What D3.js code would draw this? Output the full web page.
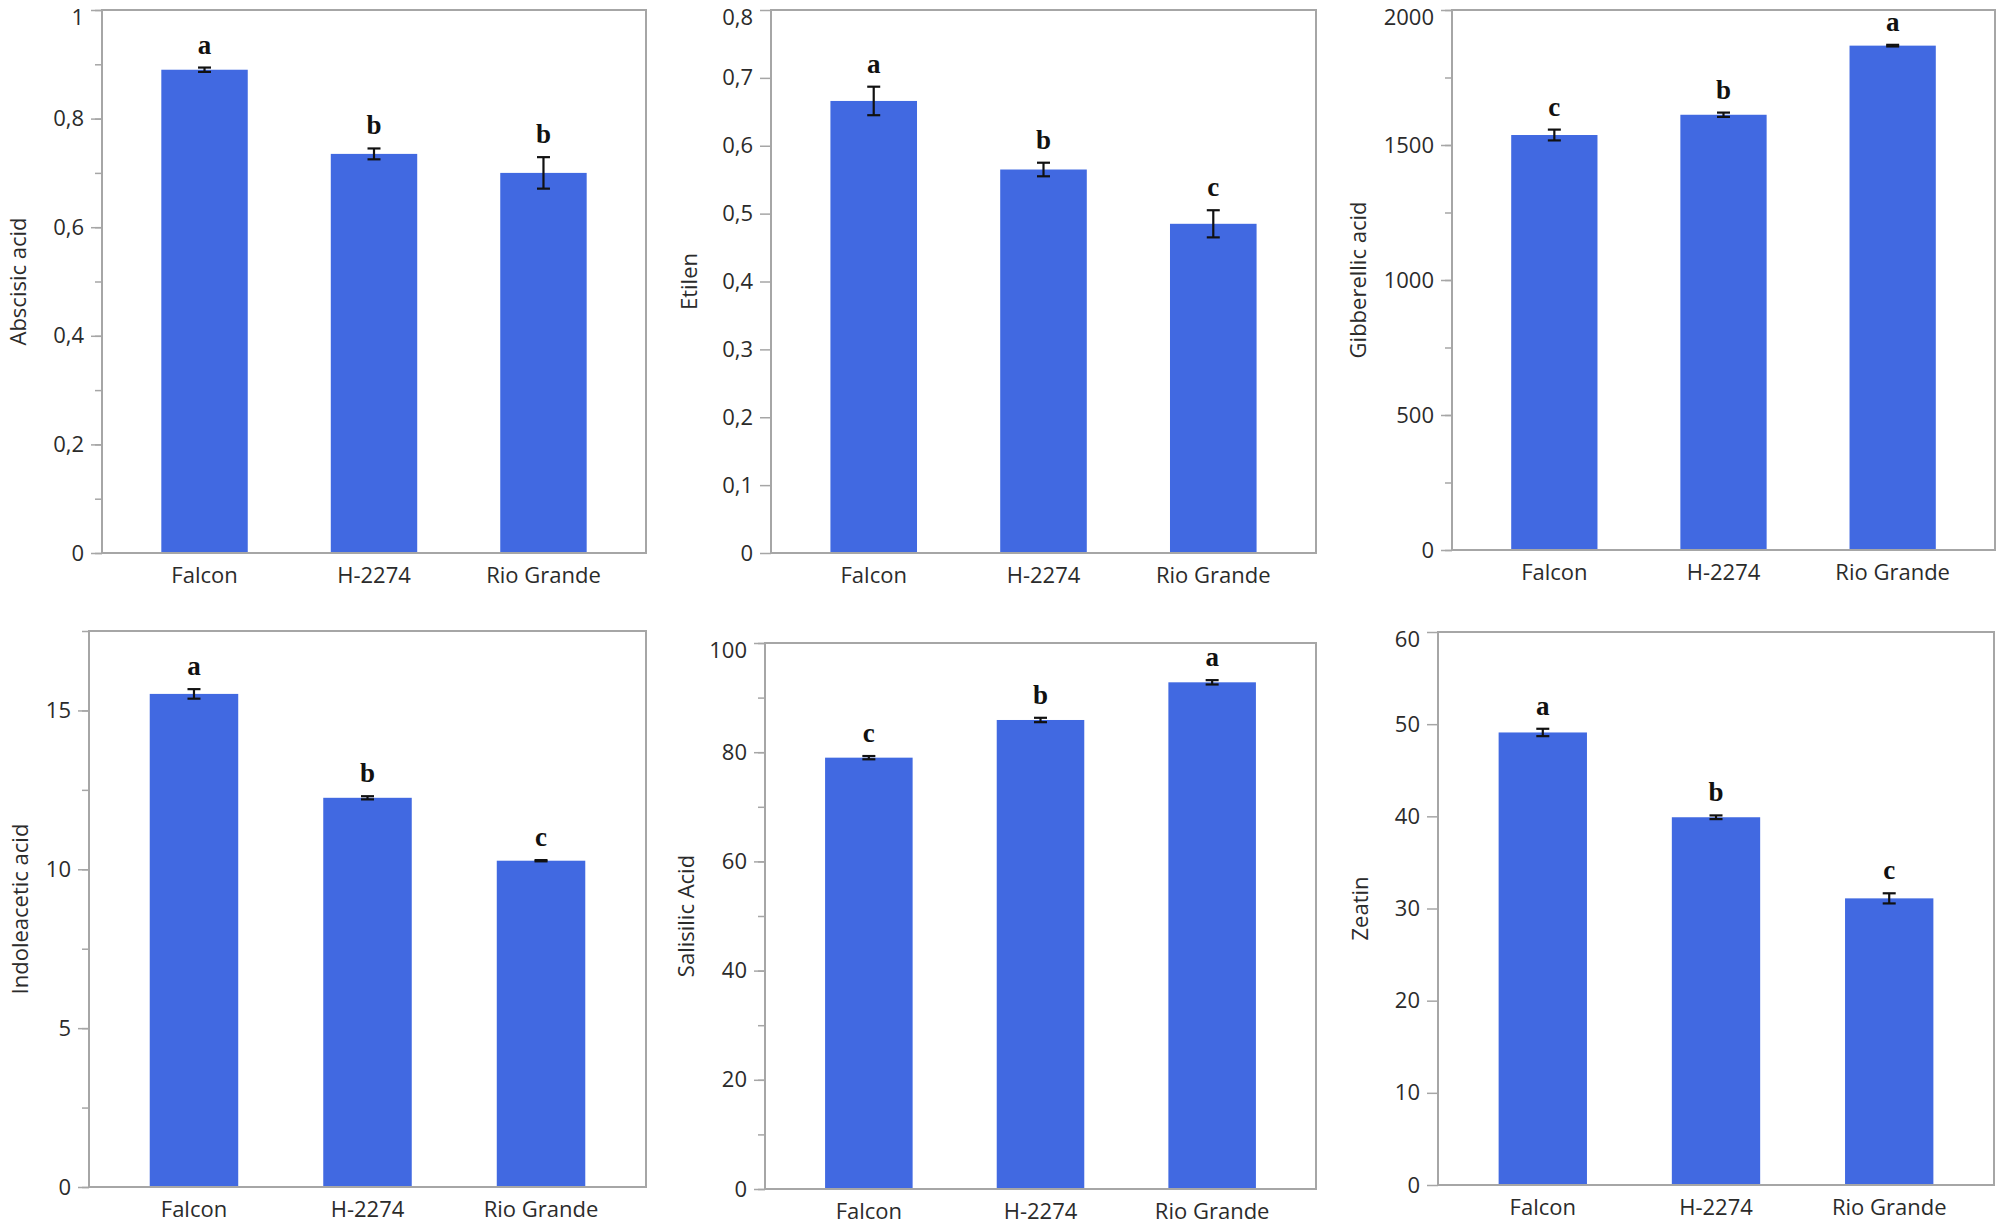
<!DOCTYPE html>
<html>
<head>
<meta charset="utf-8">
<script src="https://cdn.jsdelivr.net/npm/d3@7"></script>
<style>
  body { margin: 0; background: #fff; }
  svg { display: block; }
</style>
</head>
<body>
<div id="canvas"></div>
<script>
// cultivars on the x axis of every panel
const cultivars = ["Falcon", "H-2274", "Rio Grande"];
const hormones = ["Abscisic acid", "Etilen", "Gibberellic acid", "Indoleacetic acid", "Salisilic Acid", "Zeatin"];

// means, error (half length) and significance letters per hormone
const abscisicMean = [0.89, 0.735, 0.70];
const abscisicErr = [0.004, 0.01, 0.029];
const abscisicLetters = ["a", "b", "b"];

const etilenMean = [0.666, 0.565, 0.485];
const etilenErr = [0.021, 0.01, 0.02];
const etilenLetters = ["a", "b", "c"];

const gibberellicMean = [1537, 1612, 1868];
const gibberellicErr = [20, 8, 3];
const gibberellicLetters = ["c", "b", "a"];

const indoleMean = [15.52, 12.25, 10.27];
const indoleErr = [0.15, 0.05, 0.02];
const indoleLetters = ["a", "b", "c"];

const salisilicMean = [79.0, 85.9, 92.8];
const salisilicErr = [0.3, 0.4, 0.4];
const salisilicLetters = ["c", "b", "a"];

const zeatinMean = [49.1, 39.9, 31.1];
const zeatinErr = [0.4, 0.2, 0.55];
const zeatinLetters = ["a", "b", "c"];

// y axis: top of the scale, labelled tick step, minor tick step
const yMax = [1, 0.8, 2000, 17.5, 100, 60];
const yStep = [0.2, 0.1, 500, 5, 20, 10];
const yMinor = [0.1, null, 250, 2.5, 10, null];

const means = [abscisicMean, etilenMean, gibberellicMean, indoleMean, salisilicMean, zeatinMean];
const errs = [abscisicErr, etilenErr, gibberellicErr, indoleErr, salisilicErr, zeatinErr];
const letters = [abscisicLetters, etilenLetters, gibberellicLetters, indoleLetters, salisilicLetters, zeatinLetters];

// plot frames (pixels) and where each y title sits
const frames = [
  { x0: 102, x1: 646, y0: 10, y1: 553, tx: 17 },
  { x0: 771, x1: 1316, y0: 10, y1: 553, tx: 688 },
  { x0: 1452, x1: 1995, y0: 10, y1: 550, tx: 1357 },
  { x0: 89, x1: 646, y0: 631, y1: 1187, tx: 19 },
  { x0: 765, x1: 1316, y0: 643, y1: 1189, tx: 685 },
  { x0: 1438, x1: 1994, y0: 632, y1: 1185, tx: 1359 }
];

const width = 2000;
const height = 1226;
const barColor = "#4169e1";
const gridGray = "#a6a6a6";
const textColor = "#2b2b2b";
const comma = d3.formatLocale({ decimal: ",", thousands: "", grouping: [3], currency: ["", ""] }).format("~g");

const svg = d3.select("#canvas").append("svg")
  .attr("width", width)
  .attr("height", height)
  .style("font-family", "'Open Sans', 'Noto Sans', sans-serif");

hormones.forEach((name, i) => {
  const f = frames[i];
  const g = svg.append("g");

  const x = d3.scaleBand()
    .domain(cultivars)
    .range([f.x0, f.x1])
    .paddingInner(0.49)
    .paddingOuter(0.35);

  const y = d3.scaleLinear()
    .domain([0, yMax[i]])
    .range([f.y1, f.y0]);

  const rows = cultivars.map((c, k) => ({ c: c, v: means[i][k], e: errs[i][k], l: letters[i][k] }));

  // minor ticks
  if (yMinor[i]) {
    const minor = d3.range(0, yMax[i] + 1e-9, yMinor[i]);
    g.append("g")
      .attr("transform", `translate(${f.x0},0)`)
      .call(d3.axisLeft(y).tickValues(minor).tickSize(7).tickFormat(""))
      .call(a => a.select(".domain").remove())
      .call(a => a.selectAll("line").attr("stroke", gridGray).attr("stroke-width", 1.5));
  }

  // labelled ticks; the top label is nudged down so it stays on the page
  const major = d3.range(0, yMax[i] + 1e-9, yStep[i]);
  g.append("g")
    .attr("transform", `translate(${f.x0},0)`)
    .call(d3.axisLeft(y).tickValues(major).tickSize(11).tickPadding(7).tickFormat(comma))
    .call(a => a.select(".domain").remove())
    .call(a => a.selectAll("line").attr("stroke", gridGray).attr("stroke-width", 1.5))
    .call(a => a.selectAll("text")
      .attr("fill", textColor)
      .style("font-size", "22px")
      .style("font-family", "'Open Sans', sans-serif")
      .attr("y", d => Math.abs(d - yMax[i]) < 1e-9 ? 7 : 0));

  g.selectAll("rect.bar")
    .data(rows)
    .enter().append("rect")
    .attr("class", "bar")
    .attr("x", d => x(d.c))
    .attr("y", d => y(d.v))
    .attr("width", x.bandwidth())
    .attr("height", d => y(0) - y(d.v))
    .attr("fill", barColor);

  // frame round the plot area
  g.append("rect")
    .attr("x", f.x0)
    .attr("y", f.y0)
    .attr("width", f.x1 - f.x0)
    .attr("height", f.y1 - f.y0)
    .attr("fill", "none")
    .attr("stroke", gridGray)
    .attr("stroke-width", 2);

  // error bars
  const cx = d => x(d.c) + x.bandwidth() / 2;
  const eb = g.selectAll("g.err").data(rows).enter().append("g").attr("class", "err")
    .attr("stroke", "#111").attr("stroke-width", 2.2);
  eb.append("line").attr("x1", cx).attr("x2", cx).attr("y1", d => y(d.v + d.e)).attr("y2", d => y(d.v - d.e));
  eb.append("line").attr("x1", d => cx(d) - 6.5).attr("x2", d => cx(d) + 6.5).attr("y1", d => y(d.v + d.e)).attr("y2", d => y(d.v + d.e));
  eb.append("line").attr("x1", d => cx(d) - 6.5).attr("x2", d => cx(d) + 6.5).attr("y1", d => y(d.v - d.e)).attr("y2", d => y(d.v - d.e));

  // significance letters
  g.selectAll("text.sig")
    .data(rows)
    .enter().append("text")
    .attr("class", "sig")
    .attr("x", cx)
    .attr("y", d => y(d.v + d.e) - 14)
    .attr("text-anchor", "middle")
    .style("font-family", "'Liberation Serif', 'Times New Roman', serif")
    .style("font-weight", "bold")
    .style("font-size", "27px")
    .attr("fill", "#111")
    .text(d => d.l);

  // cultivar labels
  g.append("g")
    .attr("transform", `translate(0,${f.y1})`)
    .call(d3.axisBottom(x).tickSize(0).tickPadding(14))
    .call(a => a.select(".domain").remove())
    .call(a => a.selectAll("text").attr("fill", textColor).style("font-size", "22px").style("font-family", "'Open Sans', sans-serif"));

  // y title
  g.append("text")
    .attr("transform", `translate(${f.tx},${(f.y0 + f.y1) / 2}) rotate(-90)`)
    .attr("text-anchor", "middle")
    .attr("dominant-baseline", "central")
    .attr("fill", textColor)
    .style("font-size", "22px")
    .text(name);
});
</script>
</body>
</html>
